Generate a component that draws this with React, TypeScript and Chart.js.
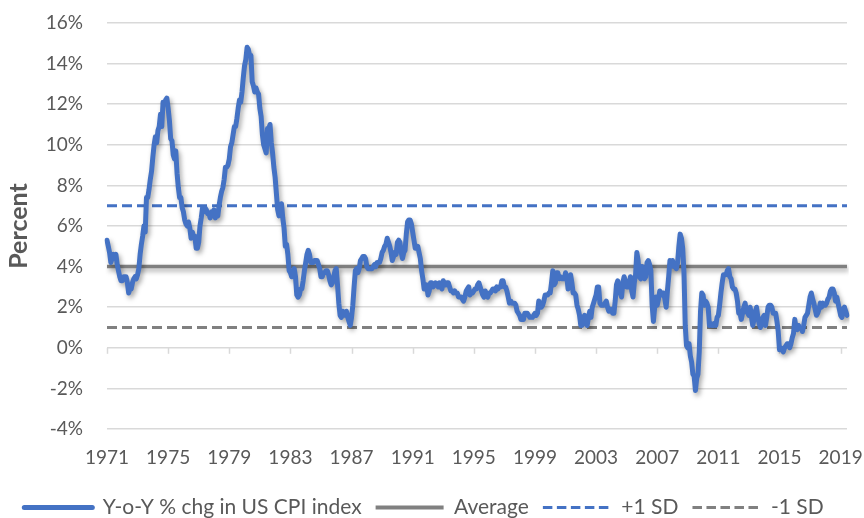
import React, { useEffect, useRef } from 'react';
import { Chart, registerables } from 'chart.js';

Chart.register(...registerables);

// Monthly year-over-year % change in US CPI, Jan 1971 - Jun 2019
const START_YEAR = 1971;
const cpi1970s = [
  5.3, 5.0, 4.7, 4.2, 4.4, 4.6, 4.4, 4.6, 4.1, 3.8, 3.5, 3.3,
  3.3, 3.5, 3.5, 3.5, 3.2, 2.7, 2.9, 2.9, 3.2, 3.4, 3.5, 3.4,
  3.6, 3.9, 4.6, 5.1, 5.5, 6.0, 5.7, 7.4, 7.4, 7.8, 8.3, 8.7,
  9.4, 10.0, 10.4, 10.1, 10.7, 10.9, 11.5, 10.9, 12.1, 12.0, 12.2, 12.3,
  11.8, 11.2, 10.3, 10.2, 9.5, 9.3, 9.7, 8.6, 7.9, 7.4, 7.4, 6.9,
  6.7, 6.3, 6.1, 6.0, 6.2, 5.9, 5.4, 5.7, 5.5, 5.5, 4.9, 4.9,
  5.2, 6.0, 6.4, 6.9, 6.7, 6.9, 6.8, 6.6, 6.6, 6.4, 6.7, 6.7,
  6.8, 6.4, 6.6, 6.5, 7.0, 7.4, 7.7, 7.9, 8.3, 8.9, 8.9, 9.0,
  9.3, 9.9, 10.1, 10.5, 10.9, 10.9, 11.3, 11.8, 12.2, 12.1, 12.6, 13.3,
];
const cpi1980s = [
  13.9, 14.2, 14.8, 14.7, 14.4, 14.4, 13.1, 12.9, 12.6, 12.8, 12.6, 12.5,
  11.8, 11.4, 10.5, 10.0, 9.8, 9.6, 10.8, 10.8, 11.0, 10.1, 9.6, 8.9,
  8.4, 7.6, 6.8, 6.5, 6.7, 7.1, 6.4, 5.9, 5.0, 5.1, 4.6, 3.8,
  3.7, 3.5, 3.6, 3.9, 3.5, 2.6, 2.5, 2.6, 2.9, 2.9, 3.3, 3.8,
  4.2, 4.6, 4.8, 4.6, 4.2, 4.2, 4.2, 4.3, 4.3, 4.3, 4.1, 3.9,
  3.5, 3.5, 3.7, 3.7, 3.8, 3.8, 3.6, 3.3, 3.1, 3.2, 3.5, 3.8,
  3.9, 3.1, 2.2, 1.6, 1.5, 1.8, 1.6, 1.6, 1.8, 1.5, 1.3, 1.1,
  1.5, 2.1, 3.0, 3.8, 3.9, 3.7, 3.9, 4.3, 4.4, 4.5, 4.5, 4.4,
  4.0, 3.9, 3.9, 3.9, 3.9, 4.0, 4.1, 4.0, 4.2, 4.2, 4.2, 4.4,
  4.7, 4.8, 5.0, 5.1, 5.4, 5.2, 5.0, 4.7, 4.3, 4.5, 4.7, 4.6,
];
const cpi1990s = [
  5.2, 5.3, 5.2, 4.7, 4.4, 4.7, 4.8, 5.6, 6.2, 6.3, 6.3, 6.1,
  5.7, 5.3, 4.9, 4.9, 5.0, 4.7, 4.4, 3.8, 3.4, 2.9, 3.0, 3.1,
  2.6, 2.8, 3.2, 3.2, 3.0, 3.1, 3.2, 3.1, 3.0, 3.2, 3.0, 2.9,
  3.3, 3.2, 3.1, 3.2, 3.2, 3.0, 2.8, 2.8, 2.7, 2.8, 2.7, 2.7,
  2.5, 2.5, 2.5, 2.4, 2.3, 2.5, 2.8, 2.9, 3.0, 2.6, 2.7, 2.7,
  2.8, 2.9, 2.9, 3.1, 3.2, 3.0, 2.8, 2.6, 2.5, 2.8, 2.6, 2.5,
  2.7, 2.7, 2.8, 2.9, 2.9, 2.8, 3.0, 2.9, 3.0, 3.0, 3.3, 3.3,
  3.0, 3.0, 2.8, 2.5, 2.2, 2.3, 2.2, 2.2, 2.2, 2.1, 1.8, 1.7,
  1.6, 1.4, 1.4, 1.4, 1.7, 1.7, 1.7, 1.6, 1.5, 1.5, 1.5, 1.6,
  1.7, 1.6, 1.7, 2.3, 2.1, 2.0, 2.1, 2.3, 2.6, 2.6, 2.6, 2.7,
];
const cpi2000s = [
  2.7, 3.2, 3.8, 3.1, 3.2, 3.7, 3.7, 3.4, 3.5, 3.4, 3.4, 3.4,
  3.7, 3.5, 2.9, 3.3, 3.6, 3.2, 2.7, 2.7, 2.6, 2.1, 1.9, 1.6,
  1.1, 1.1, 1.5, 1.6, 1.2, 1.1, 1.5, 1.8, 1.5, 2.0, 2.2, 2.4,
  2.6, 3.0, 3.0, 2.2, 2.1, 2.1, 2.1, 2.2, 2.3, 2.0, 1.8, 1.9,
  1.9, 1.7, 1.7, 2.3, 3.1, 3.3, 3.0, 2.7, 2.5, 3.2, 3.5, 3.3,
  3.0, 3.0, 3.1, 3.5, 2.8, 2.5, 3.2, 3.6, 4.7, 4.3, 3.5, 3.4,
  4.0, 3.6, 3.4, 3.5, 4.2, 4.3, 4.1, 3.8, 2.1, 1.3, 2.0, 2.5,
  2.1, 2.4, 2.8, 2.6, 2.7, 2.7, 2.4, 2.0, 2.8, 3.5, 4.3, 4.1,
  4.3, 4.0, 4.0, 3.9, 4.2, 5.0, 5.6, 5.4, 4.9, 3.7, 1.1, 0.1,
  0.0, 0.2, -0.4, -0.7, -1.3, -1.4, -2.1, -1.5, -1.3, -0.2, 1.8, 2.7,
];
const cpi2010s = [
  2.6, 2.1, 2.3, 2.2, 2.0, 1.1, 1.2, 1.1, 1.1, 1.2, 1.1, 1.5,
  1.6, 2.1, 2.7, 3.2, 3.6, 3.6, 3.6, 3.8, 3.9, 3.5, 3.4, 3.0,
  2.9, 2.9, 2.7, 2.3, 1.7, 1.7, 1.4, 1.7, 2.0, 2.2, 1.8, 1.7,
  1.6, 2.0, 1.5, 1.1, 1.4, 1.8, 2.0, 1.5, 1.2, 1.0, 1.2, 1.5,
  1.6, 1.1, 1.5, 2.0, 2.1, 2.1, 2.0, 1.7, 1.7, 1.7, 1.3, 0.8,
  -0.1, 0.0, -0.1, -0.2, 0.0, 0.1, 0.2, 0.2, 0.0, 0.2, 0.5, 0.7,
  1.4, 1.0, 0.9, 1.1, 1.0, 1.0, 0.8, 1.1, 1.5, 1.6, 1.7, 2.1,
  2.5, 2.7, 2.4, 2.2, 1.9, 1.6, 1.7, 1.9, 2.2, 2.0, 2.2, 2.1,
  2.1, 2.2, 2.4, 2.5, 2.8, 2.9, 2.9, 2.7, 2.3, 2.5, 2.2, 1.9,
  1.6, 1.5, 1.9, 2.0, 1.8, 1.6,
];

const averageValue = 4.0;
const plusOneSD = 7.0;
const minusOneSD = 1.0;

const xTickYears = ['1971', '1975', '1979', '1983', '1987', '1991', '1995', '1999', '2003', '2007', '2011', '2015', '2019'];
const yTickMin = -4;
const yTickMax = 16;
const yTickStep = 2;

const seriesNames = ['Y-o-Y % chg in US CPI index', 'Average', '+1 SD', '-1 SD'];

const cpiValues = [...cpi1970s, ...cpi1980s, ...cpi1990s, ...cpi2000s, ...cpi2010s];
const monthLabels = cpiValues.map((_, i) => {
  const y = START_YEAR + Math.floor(i / 12);
  const m = (i % 12) + 1;
  return `${y}-${m < 10 ? '0' + m : m}`;
});

const BLUE = '#4472C4';
const GRAY = '#808080';
const TEXT = '#595959';
const GRID = '#d9d9d9';
const FONT = 'Lato, "Open Sans", sans-serif';

const flatLine = (v: number) => [
  { x: monthLabels[0], y: v },
  { x: monthLabels[monthLabels.length - 1], y: v },
];

const isYearTick = (lab: string) => !!lab && lab.endsWith('-01') && xTickYears.includes(lab.slice(0, 4));

const shadowPlugin = {
  id: 'lineShadow',
  beforeDatasetDraw(chart: any, args: any) {
    if (args.index === 0 || args.index === 1) {
      const ctx = chart.ctx;
      ctx.save();
      ctx.shadowColor = 'rgba(0,0,0,0.35)';
      ctx.shadowBlur = 5;
      ctx.shadowOffsetX = 2;
      ctx.shadowOffsetY = 3;
    }
  },
  afterDatasetDraw(chart: any, args: any) {
    if (args.index === 0 || args.index === 1) {
      chart.ctx.restore();
    }
  },
};

const zeroTicksPlugin = {
  id: 'zeroTicks',
  beforeDatasetsDraw(chart: any) {
    const ctx = chart.ctx;
    const xs = chart.scales.x;
    const ys = chart.scales.y;
    const y0 = ys.getPixelForValue(0);
    ctx.save();
    ctx.strokeStyle = GRID;
    ctx.lineWidth = 1.5;
    monthLabels.forEach((lab, i) => {
      if (isYearTick(lab)) {
        const x = Math.round(xs.getPixelForValue(i)) + 0.5;
        ctx.beginPath();
        ctx.moveTo(x, y0);
        ctx.lineTo(x, y0 + 6);
        ctx.stroke();
      }
    });
    ctx.restore();
  },
};

export default function App() {
  const ref = useRef<HTMLCanvasElement | null>(null);

  useEffect(() => {
    if (!ref.current) return;
    const chart = new Chart(ref.current, {
      type: 'line',
      data: {
        labels: monthLabels,
        datasets: [
          {
            label: seriesNames[0],
            data: cpiValues,
            borderColor: BLUE,
            backgroundColor: BLUE,
            borderWidth: 5,
            borderJoinStyle: 'round',
            borderCapStyle: 'round',
            pointRadius: 0,
            tension: 0,
          },
          {
            label: seriesNames[1],
            data: flatLine(averageValue) as any,
            borderColor: GRAY,
            backgroundColor: GRAY,
            borderWidth: 3.5,
            pointRadius: 0,
          },
          {
            label: seriesNames[2],
            data: flatLine(plusOneSD) as any,
            borderColor: BLUE,
            backgroundColor: BLUE,
            borderWidth: 3,
            borderDash: [10, 5],
            pointRadius: 0,
          },
          {
            label: seriesNames[3],
            data: flatLine(minusOneSD) as any,
            borderColor: GRAY,
            backgroundColor: GRAY,
            borderWidth: 3,
            borderDash: [10, 5],
            pointRadius: 0,
          },
        ],
      },
      options: {
        animation: false,
        responsive: true,
        maintainAspectRatio: false,
        layout: { padding: { top: 23, right: 16, bottom: -10, left: 0 } },
        plugins: {
          tooltip: { enabled: false },
          legend: {
            position: 'bottom',
            labels: {
              usePointStyle: true,
              pointStyle: 'line',
              pointStyleWidth: 68,
              color: TEXT,
              font: { family: FONT, size: 21 },
              padding: 14,
              generateLabels: (c: any) =>
                c.data.datasets.map((ds: any, i: number) => ({
                  text: ds.label,
                  fillStyle: ds.borderColor,
                  strokeStyle: ds.borderColor,
                  lineWidth: i === 0 ? 5 : i === 1 ? 4 : 3,
                  lineDash: i >= 2 ? [9.5, 4.5] : [],
                  lineCap: i === 0 ? 'round' : 'butt',
                  pointStyle: 'line',
                  hidden: false,
                  datasetIndex: i,
                  fontColor: TEXT,
                })),
            },
          },
        },
        scales: {
          x: {
            type: 'category',
            grid: { display: false, drawTicks: false },
            border: { display: false },
            ticks: {
              autoSkip: false,
              maxRotation: 0,
              minRotation: 0,
              padding: 17,
              color: TEXT,
              font: { family: FONT, size: 19 },
              callback: (_v: any, i: number) => {
                const lab = monthLabels[i];
                return isYearTick(lab) ? lab.slice(0, 4) : '';
              },
            },
            afterFit: (scale: any) => {
              scale.height = 54;
            },
          },
          y: {
            min: yTickMin,
            max: yTickMax,
            grid: { color: GRID, lineWidth: 1.5, drawTicks: true, tickLength: 24, tickColor: 'rgba(0,0,0,0)' },
            border: { display: false },
            ticks: {
              stepSize: yTickStep,
              padding: 0,
              color: TEXT,
              font: { family: FONT, size: 19 },
              callback: (v: any) => `${v}%`,
            },
            title: {
              display: true,
              text: 'Percent',
              color: TEXT,
              font: { family: FONT, size: 25, weight: 'bold' },
              padding: { top: 4, bottom: 0 },
            },
            afterFit: (scale: any) => {
              scale.width = 107;
            },
          },
        },
      },
      plugins: [shadowPlugin, zeroTicksPlugin],
    });
    return () => chart.destroy();
  }, []);

  return (
    <div style={{ position: 'absolute', left: 0, top: 0, width: 864, height: 518, background: '#fff' }}>
      <canvas ref={ref} />
    </div>
  );
}
